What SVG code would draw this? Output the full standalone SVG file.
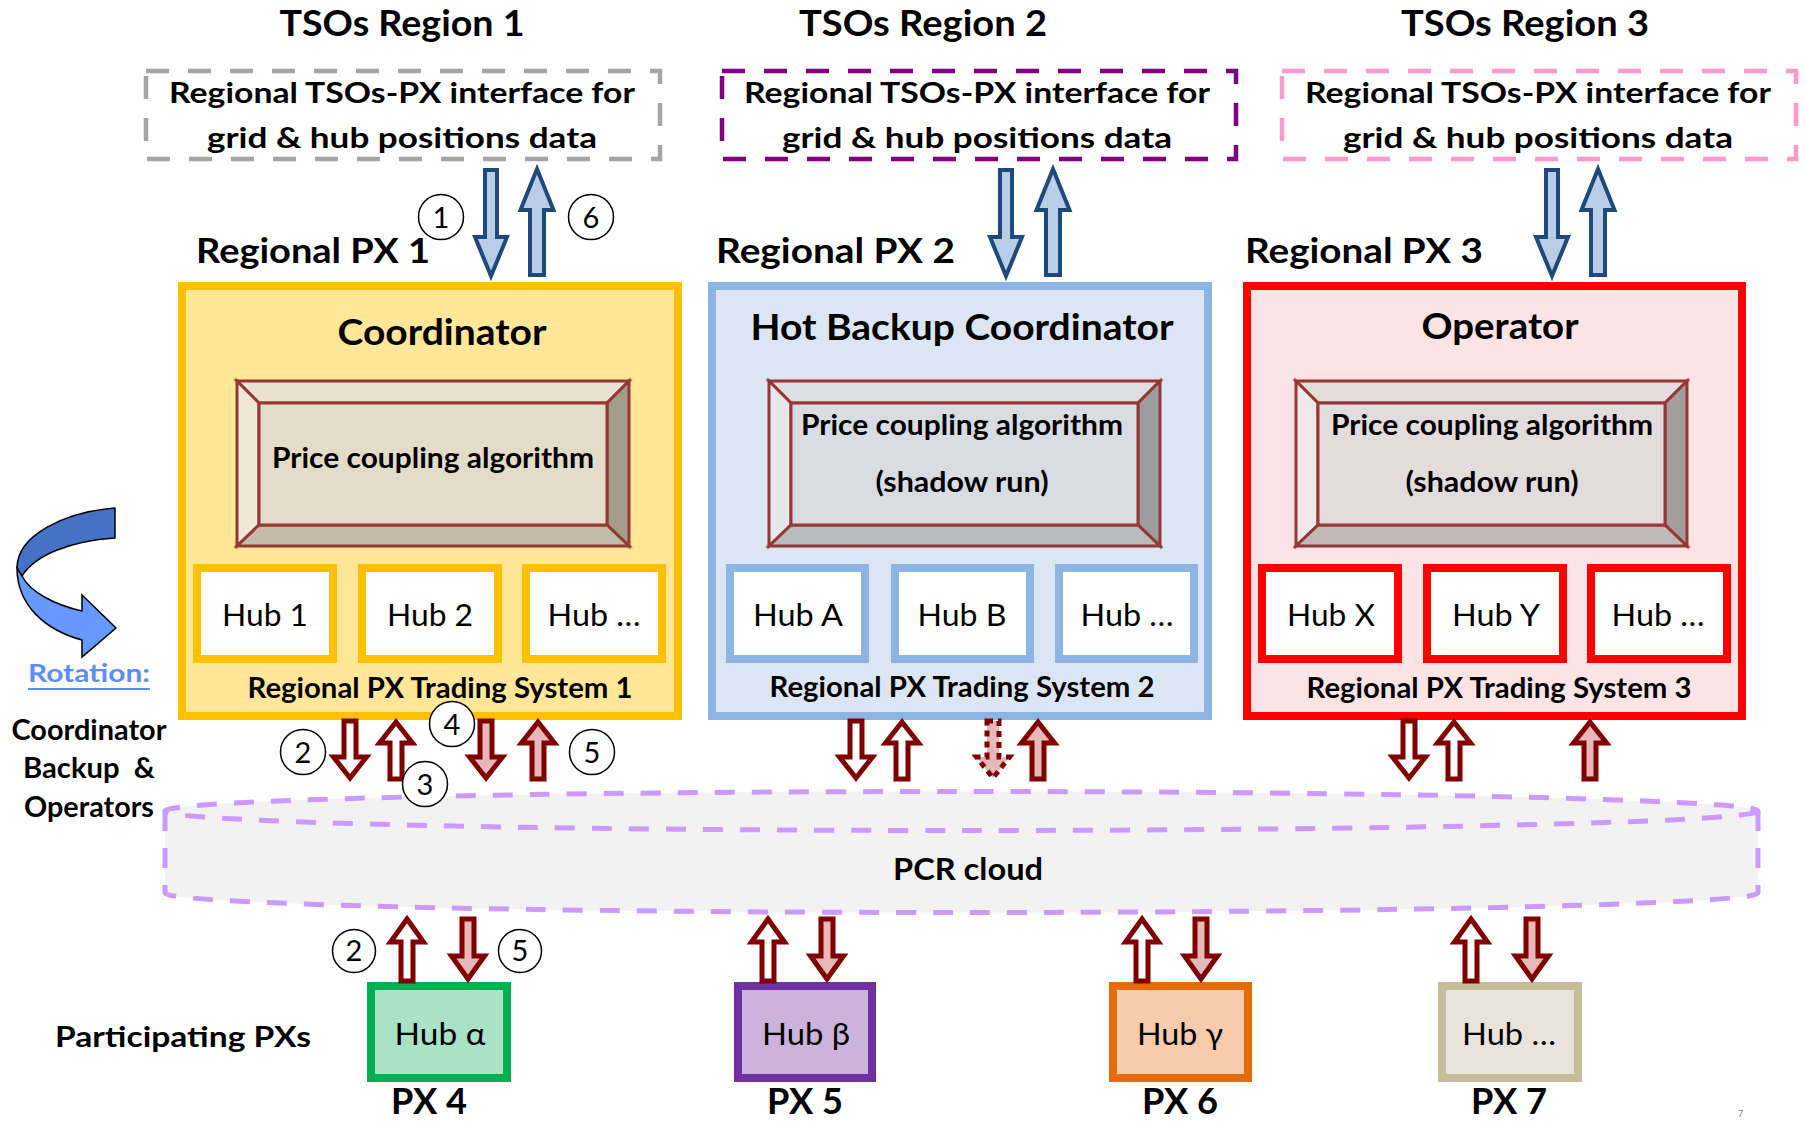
<svg xmlns="http://www.w3.org/2000/svg" xmlns:xlink="http://www.w3.org/1999/xlink" width="1805" height="1122" viewBox="0 0 1805 1122">
<style>
  text { font-family: Lato, "Liberation Sans", "DejaVu Sans", sans-serif; fill: #000; }
  .c { text-anchor: middle; }
  .b { font-weight: 700; }
  .tso { font-size: 36px; font-weight: 700; text-anchor: middle; }
  .ifc { font-size: 28px; font-weight: 700; text-anchor: middle; }
  .rpx { font-size: 35px; font-weight: 700; }
  .role { font-size: 37px; font-weight: 700; text-anchor: middle; }
  .alg { font-size: 29px; font-weight: 700; text-anchor: middle; }
  .hub { font-size: 31px; text-anchor: middle; }
  .sys { font-size: 28px; font-weight: 700; text-anchor: middle; }
  .num { font-size: 29px; text-anchor: middle; }
  .dash { fill: none; stroke-width: 4.5; stroke-dasharray: 23 19; }
  .bev { stroke: #953735; stroke-width: 3; stroke-linejoin: miter; }
  .red { stroke: #800000; stroke-width: 5; stroke-linejoin: miter; }
  .wh { fill: #FFFFFF; }
  .pk { fill: #E6B9B8; }
  .dot { stroke-dasharray: 6 5; }
  .blue { fill: #B9CDE5; stroke: #1F497D; stroke-width: 4; stroke-linejoin: miter; }
  .circ { fill: #FFFFFF; stroke: #000; stroke-width: 1.5; }
  .cloud { fill: none; stroke: #CC99FF; stroke-width: 5; stroke-dasharray: 20 17; }
</style>
<defs>
  <path id="arrD" d="M-6,0 H6 V36 H16.5 L0,57 L-16.5,36 H-6 Z"/>
  <path id="arrU" d="M0,0 L16.5,21 H6 V57 H-6 V21 H-16.5 Z"/>
  <path id="arrDB" d="M-6,0 H6 V37 H16.5 L0,60 L-16.5,37 H-6 Z"/>
  <path id="arrUB" d="M0,0 L16.5,23 H6 V62 H-6 V23 H-16.5 Z"/>
  <path id="bD" d="M-6,0 H6 V67 H16 L0,106 L-16,67 H-6 Z"/>
  <path id="bU" d="M0,0 L16.5,41 H7 V106 H-7 V41 H-16.5 Z"/>
</defs>
<rect width="1805" height="1122" fill="#FFFFFF"/>

<!-- PCR cloud (cylinder) -->
<g id="pcr-cloud">
  <path d="M165,811 A796.5,19.5 0 0 1 1758,811 L1758,893 A796.5,19.5 0 0 1 165,893 Z" fill="#F2F2F2"/>
  <ellipse cx="961.5" cy="811" rx="796.5" ry="19.5" class="cloud"/>
  <path d="M165,811 V893 A796.5,19.5 0 0 0 1758,893 V811" class="cloud"/>
  <text x="968" y="880" class="c b" font-size="30" textLength="150" lengthAdjust="spacingAndGlyphs">PCR cloud</text>
</g>

<!-- TSO regions -->
<g id="tso1">
  <text x="402" y="36" class="tso" textLength="245" lengthAdjust="spacingAndGlyphs">TSOs Region 1</text>
  <rect x="146" y="71" width="514" height="88" class="dash" stroke="#A5A5A5"/>
  <text x="402" y="103" class="ifc" textLength="466" lengthAdjust="spacingAndGlyphs">Regional TSOs-PX interface for</text>
  <text x="402" y="148" class="ifc" textLength="390" lengthAdjust="spacingAndGlyphs">grid &amp; hub positions data</text>
</g>
<g id="tso2">
  <text x="923" y="36" class="tso" textLength="248" lengthAdjust="spacingAndGlyphs">TSOs Region 2</text>
  <rect x="722" y="71" width="514" height="88" class="dash" stroke="#7F007F"/>
  <text x="977" y="103" class="ifc" textLength="466" lengthAdjust="spacingAndGlyphs">Regional TSOs-PX interface for</text>
  <text x="977" y="148" class="ifc" textLength="390" lengthAdjust="spacingAndGlyphs">grid &amp; hub positions data</text>
</g>
<g id="tso3">
  <text x="1525" y="36" class="tso" textLength="248" lengthAdjust="spacingAndGlyphs">TSOs Region 3</text>
  <rect x="1282" y="71" width="514" height="88" class="dash" stroke="#FF99CC"/>
  <text x="1538" y="103" class="ifc" textLength="466" lengthAdjust="spacingAndGlyphs">Regional TSOs-PX interface for</text>
  <text x="1538" y="148" class="ifc" textLength="390" lengthAdjust="spacingAndGlyphs">grid &amp; hub positions data</text>
</g>

<!-- Regional PX 1 -->
<g id="px1">
  <text x="196" y="263" class="rpx" textLength="234" lengthAdjust="spacingAndGlyphs">Regional PX 1</text>
  <rect x="182" y="286" width="496" height="430" fill="#FFE699" stroke="#FFC000" stroke-width="8"/>
  <text x="442" y="345" class="role" textLength="209" lengthAdjust="spacingAndGlyphs">Coordinator</text>
  <g class="bev">
    <polygon points="237,381 629,381 607,403 259,403" fill="#E8E2D2"/>
    <polygon points="237,381 259,403 259,525 237,546" fill="#EEE8DA"/>
    <polygon points="629,381 629,546 607,525 607,403" fill="#A39C89"/>
    <polygon points="237,546 259,525 607,525 629,546" fill="#C2BBA8"/>
    <rect x="259" y="403" width="348" height="122" fill="#E2DCC8"/>
  </g>
  <text x="433" y="468" class="alg" textLength="322" lengthAdjust="spacingAndGlyphs">Price coupling algorithm</text>
  <g fill="#FFFFFF" stroke="#FFC000" stroke-width="8">
    <rect x="197" y="568" width="136" height="91"/>
    <rect x="362" y="568" width="136" height="91"/>
    <rect x="526" y="568" width="136" height="91"/>
  </g>
  <text x="265" y="626" class="hub" textLength="86" lengthAdjust="spacingAndGlyphs">Hub 1</text>
  <text x="430" y="626" class="hub" textLength="86" lengthAdjust="spacingAndGlyphs">Hub 2</text>
  <text x="594" y="626" class="hub" textLength="93" lengthAdjust="spacingAndGlyphs">Hub …</text>
  <text x="440" y="698" class="sys" textLength="385" lengthAdjust="spacingAndGlyphs">Regional PX Trading System 1</text>
</g>

<!-- Regional PX 2 -->
<g id="px2">
  <text x="716" y="263" class="rpx" textLength="239" lengthAdjust="spacingAndGlyphs">Regional PX 2</text>
  <rect x="712" y="286" width="496" height="430" fill="#DCE6F2" stroke="#8DB4E2" stroke-width="8"/>
  <text x="962" y="340" class="role" textLength="423" lengthAdjust="spacingAndGlyphs">Hot Backup Coordinator</text>
  <g class="bev">
    <polygon points="769,381 1160,381 1138,403 791,403" fill="#DDDFE3"/>
    <polygon points="769,381 791,403 791,525 769,546" fill="#E5E7EA"/>
    <polygon points="1160,381 1160,546 1138,525 1138,403" fill="#9B9DA0"/>
    <polygon points="769,546 791,525 1138,525 1160,546" fill="#B9BBBE"/>
    <rect x="791" y="403" width="347" height="122" fill="#D9DCE1"/>
  </g>
  <text x="962" y="435" class="alg" textLength="322" lengthAdjust="spacingAndGlyphs">Price coupling algorithm</text>
  <text x="962" y="492" class="alg" textLength="173" lengthAdjust="spacingAndGlyphs">(shadow run)</text>
  <g fill="#FFFFFF" stroke="#8DB4E2" stroke-width="8">
    <rect x="730" y="568" width="135" height="91"/>
    <rect x="895" y="568" width="135" height="91"/>
    <rect x="1059" y="568" width="135" height="91"/>
  </g>
  <text x="798" y="626" class="hub" textLength="90" lengthAdjust="spacingAndGlyphs">Hub A</text>
  <text x="962" y="626" class="hub" textLength="89" lengthAdjust="spacingAndGlyphs">Hub B</text>
  <text x="1127" y="626" class="hub" textLength="93" lengthAdjust="spacingAndGlyphs">Hub …</text>
  <text x="962" y="697" class="sys" textLength="385" lengthAdjust="spacingAndGlyphs">Regional PX Trading System 2</text>
</g>

<!-- Regional PX 3 -->
<g id="px3">
  <text x="1245" y="263" class="rpx" textLength="238" lengthAdjust="spacingAndGlyphs">Regional PX 3</text>
  <rect x="1247" y="286" width="495" height="430" fill="#FCE4E4" stroke="#FF0000" stroke-width="8"/>
  <text x="1500" y="339" class="role" textLength="157" lengthAdjust="spacingAndGlyphs">Operator</text>
  <g class="bev">
    <polygon points="1296,381 1687,381 1665,403 1318,403" fill="#E3DDDD"/>
    <polygon points="1296,381 1318,403 1318,525 1296,546" fill="#EEE8E8"/>
    <polygon points="1687,381 1687,546 1665,525 1665,403" fill="#A59C9C"/>
    <polygon points="1296,546 1318,525 1665,525 1687,546" fill="#C0B8B8"/>
    <rect x="1318" y="403" width="347" height="122" fill="#E2DCDC"/>
  </g>
  <text x="1492" y="435" class="alg" textLength="322" lengthAdjust="spacingAndGlyphs">Price coupling algorithm</text>
  <text x="1492" y="492" class="alg" textLength="173" lengthAdjust="spacingAndGlyphs">(shadow run)</text>
  <g fill="#FFFFFF" stroke="#FF0000" stroke-width="8">
    <rect x="1262" y="568" width="136" height="91"/>
    <rect x="1427" y="568" width="136" height="91"/>
    <rect x="1591" y="568" width="136" height="91"/>
  </g>
  <text x="1331" y="626" class="hub" textLength="88" lengthAdjust="spacingAndGlyphs">Hub X</text>
  <text x="1496" y="626" class="hub" textLength="88" lengthAdjust="spacingAndGlyphs">Hub Y</text>
  <text x="1658" y="626" class="hub" textLength="93" lengthAdjust="spacingAndGlyphs">Hub …</text>
  <text x="1499" y="698" class="sys" textLength="385" lengthAdjust="spacingAndGlyphs">Regional PX Trading System 3</text>
</g>

<!-- Rotation legend -->
<g id="rotation">
  <path d="M115,508 C65,512 17,535 17,568 L22,576 C35,555 70,541 115,538 Z" fill="#4472C4" stroke="#000" stroke-width="1.5" stroke-linejoin="round"/>
  <path d="M17,568 C17,605 45,630 82,640 L82,657 L116,628 L82,595 L82,611 C55,605 30,592 22,576 Z" fill="#6699FF" stroke="#000" stroke-width="1.5" stroke-linejoin="miter"/>
  <text x="89" y="682" class="c b" font-size="25" style="fill:#5C8DF6" textLength="122" lengthAdjust="spacingAndGlyphs">Rotation:</text>
  <line x1="28" y1="689" x2="150" y2="689" stroke="#5C8DF6" stroke-width="2"/>
  <text x="89" y="740" class="c b" font-size="28" textLength="155" lengthAdjust="spacingAndGlyphs">Coordinator</text>
  <text x="89" y="778" class="c b" font-size="28" xml:space="preserve" textLength="132" lengthAdjust="spacingAndGlyphs">Backup  &amp;</text>
  <text x="89" y="817" class="c b" font-size="28" textLength="130" lengthAdjust="spacingAndGlyphs">Operators</text>
</g>

<!-- Participating PXs -->
<text x="55" y="1047" class="b" font-size="28" textLength="256" lengthAdjust="spacingAndGlyphs">Participating PXs</text>
<g id="px4">
  <rect x="371" y="986" width="136" height="92" fill="#A9E2C5" stroke="#00B050" stroke-width="8"/>
  <text x="440" y="1045" class="hub" font-size="29" textLength="91" lengthAdjust="spacingAndGlyphs">Hub α</text>
  <text x="429" y="1114" class="c b" font-size="36" textLength="76" lengthAdjust="spacingAndGlyphs">PX 4</text>
</g>
<g id="px5">
  <rect x="738" y="986" width="134" height="92" fill="#CCB3DB" stroke="#7030A0" stroke-width="8"/>
  <text x="806" y="1045" class="hub" font-size="29" textLength="88" lengthAdjust="spacingAndGlyphs">Hub β</text>
  <text x="805" y="1114" class="c b" font-size="36" textLength="76" lengthAdjust="spacingAndGlyphs">PX 5</text>
</g>
<g id="px6">
  <rect x="1113" y="986" width="135" height="92" fill="#F8CBAD" stroke="#E46C0A" stroke-width="8"/>
  <text x="1180" y="1045" class="hub" font-size="29" textLength="86" lengthAdjust="spacingAndGlyphs">Hub γ</text>
  <text x="1180" y="1114" class="c b" font-size="36" textLength="76" lengthAdjust="spacingAndGlyphs">PX 6</text>
</g>
<g id="px7">
  <rect x="1442" y="986" width="136" height="92" fill="#E8E4D9" stroke="#C4BD97" stroke-width="8"/>
  <text x="1509" y="1045" class="hub" font-size="29" textLength="94" lengthAdjust="spacingAndGlyphs">Hub …</text>
  <text x="1509" y="1114" class="c b" font-size="36" textLength="76" lengthAdjust="spacingAndGlyphs">PX 7</text>
</g>

<!-- Connectors -->
<g id="connectors">
  <use href="#bD" x="491" y="170" class="blue"/>
  <use href="#bU" x="537" y="169" class="blue"/>
  <use href="#bD" x="1006" y="170" class="blue"/>
  <use href="#bU" x="1053" y="169" class="blue"/>
  <use href="#bD" x="1552" y="170" class="blue"/>
  <use href="#bU" x="1598" y="169" class="blue"/>
  <use href="#arrD" x="350" y="721" class="red wh"/>
  <use href="#arrU" x="396" y="722" class="red wh"/>
  <use href="#arrD" x="486" y="721" class="red pk"/>
  <use href="#arrU" x="538" y="722" class="red pk"/>
  <use href="#arrD" x="856" y="721" class="red wh"/>
  <use href="#arrU" x="902" y="722" class="red wh"/>
  <use href="#arrD" x="993" y="721" class="red pk dot"/>
  <use href="#arrU" x="1038" y="722" class="red pk"/>
  <use href="#arrD" x="1409" y="721" class="red wh"/>
  <use href="#arrU" x="1454" y="722" class="red wh"/>
  <use href="#arrU" x="1590" y="722" class="red pk"/>
  <use href="#arrUB" x="407" y="919" class="red wh"/>
  <use href="#arrDB" x="468" y="919" class="red pk"/>
  <use href="#arrUB" x="768" y="919" class="red wh"/>
  <use href="#arrDB" x="827" y="919" class="red pk"/>
  <use href="#arrUB" x="1142" y="919" class="red wh"/>
  <use href="#arrDB" x="1201" y="919" class="red pk"/>
  <use href="#arrUB" x="1471" y="919" class="red wh"/>
  <use href="#arrDB" x="1532" y="919" class="red pk"/>
</g>

<!-- Step numbers -->
<g id="steps">
  <circle cx="441" cy="217" r="22.5" class="circ"/><text x="441" y="227.5" class="num">1</text>
  <circle cx="591" cy="217" r="22.5" class="circ"/><text x="591" y="227.5" class="num">6</text>
  <circle cx="303" cy="752" r="22.5" class="circ"/><text x="303" y="762.5" class="num">2</text>
  <circle cx="452" cy="724" r="22.5" class="circ"/><text x="452" y="734.5" class="num">4</text>
  <circle cx="425" cy="784" r="22.5" class="circ"/><text x="425" y="794.5" class="num">3</text>
  <circle cx="592" cy="752" r="22.5" class="circ"/><text x="592" y="762.5" class="num">5</text>
  <circle cx="354" cy="951" r="21.5" class="circ"/><text x="354" y="961" class="num">2</text>
  <circle cx="520" cy="951" r="21.5" class="circ"/><text x="520" y="961" class="num">5</text>
</g>

<text x="1738" y="1117" font-size="9" style="fill:#7F7F7F">7</text>
</svg>
